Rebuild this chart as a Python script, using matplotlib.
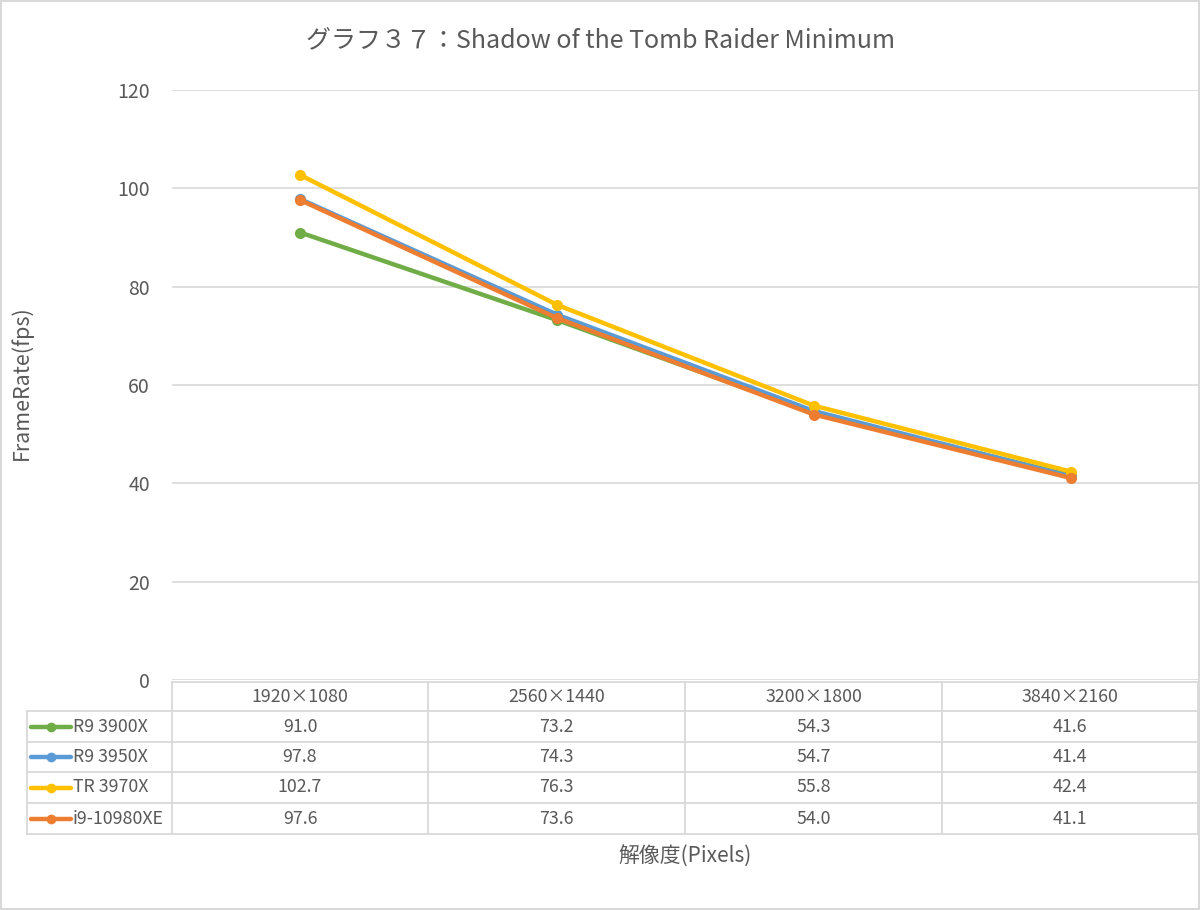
import matplotlib.pyplot as plt
from matplotlib.lines import Line2D
from matplotlib.patches import Rectangle

# --- data ---
resolutions = ["1920×1080", "2560×1440", "3200×1800", "3840×2160"]
cpus = ["R9 3900X", "R9 3950X", "TR 3970X", "i9-10980XE"]
r9_3900x = [91.0, 73.2, 54.3, 41.6]
r9_3950x = [97.8, 74.3, 54.7, 41.4]
tr_3970x = [102.7, 76.3, 55.8, 42.4]
i9_10980xe = [97.6, 73.6, 54.0, 41.1]
series = [r9_3900x, r9_3950x, tr_3970x, i9_10980xe]
colors = ["#70AD47", "#5B9BD5", "#FFC000", "#ED7D31"]
yticks = [0, 20, 40, 60, 80, 100, 120]

plt.rcParams['font.family'] = ['Noto Sans CJK JP', 'DejaVu Sans']
TXT = "#595959"
GRID = "#D9D9D9"

W, H = 1200, 910
fig = plt.figure(figsize=(W / 100, H / 100), dpi=100)


def fx(px):
    return px / W


def fy(py):
    return 1 - py / H


# plot area
ax = fig.add_axes([fx(172), fy(680), fx(1199) - fx(172), fy(90) - fy(680)])
x = list(range(len(resolutions)))
for vals, col in zip(series, colors):
    ax.plot(x, vals, color=col, linewidth=3.2, marker="o", markersize=7,
            solid_capstyle="round")
ax.set_xlim(-0.5, len(resolutions) - 0.5)
ax.set_ylim(0, 120)
ax.set_yticks(yticks)
ax.set_xticks([])
ax.yaxis.grid(True, color=GRID, linewidth=1.2)
ax.set_axisbelow(True)
for s in ax.spines.values():
    s.set_visible(False)
ax.tick_params(axis="y", length=0, pad=16, labelsize=14, labelcolor=TXT)

# title and axis labels
fig.text(0.5, fy(40), "グラフ３７：Shadow of the Tomb Raider Minimum",
         ha="center", va="center", fontsize=18, color=TXT)
fig.text(fx(22), fy(383), "FrameRate(fps)", rotation=90, ha="center",
         va="center", fontsize=15.5, color=TXT)
fig.text(fx(685), fy(857), "解像度(Pixels)", ha="center", va="center",
         fontsize=15, color=TXT)

# data table below the plot
col_edges = [172, 428, 685, 942, 1198]
row_edges = [682, 711, 742, 772, 803, 834]
lw = 1.3
FS = 12.8


def hline(x0, x1, y):
    fig.add_artist(Line2D([fx(x0), fx(x1)], [fy(y), fy(y)], color=GRID, lw=lw))


def vline(xp, y0, y1):
    fig.add_artist(Line2D([fx(xp), fx(xp)], [fy(y0), fy(y1)], color=GRID, lw=lw))


hline(172, 1198, row_edges[0])
for ry in row_edges[1:]:
    hline(27, 1198, ry)
for cx in col_edges:
    vline(cx, row_edges[0], row_edges[-1])
vline(27, row_edges[1], row_edges[-1])

for i, lab in enumerate(resolutions):
    cx = (col_edges[i] + col_edges[i + 1]) / 2
    fig.text(fx(cx), fy((row_edges[0] + row_edges[1]) / 2), lab,
             ha="center", va="center", fontsize=FS, color=TXT)

for r, (name, vals, col) in enumerate(zip(cpus, series, colors)):
    cy = (row_edges[r + 1] + row_edges[r + 2]) / 2
    fig.add_artist(Line2D([fx(31), fx(71)], [fy(cy), fy(cy)], color=col,
                          lw=3.2, solid_capstyle="round"))
    fig.add_artist(Line2D([fx(51)], [fy(cy)], color=col, marker="o",
                          markersize=6))
    fig.text(fx(73), fy(cy), name, ha="left", va="center", fontsize=FS,
             color=TXT)
    for i, v in enumerate(vals):
        cx = (col_edges[i] + col_edges[i + 1]) / 2
        fig.text(fx(cx), fy(cy), f"{v:.1f}", ha="center", va="center",
                 fontsize=FS, color=TXT)

# outer chart border
fig.add_artist(Rectangle((0.001, 0.001), 0.998, 0.998, transform=fig.transFigure,
                         fill=False, edgecolor=GRID, lw=1.5))

fig.savefig("out.png", dpi=100)
